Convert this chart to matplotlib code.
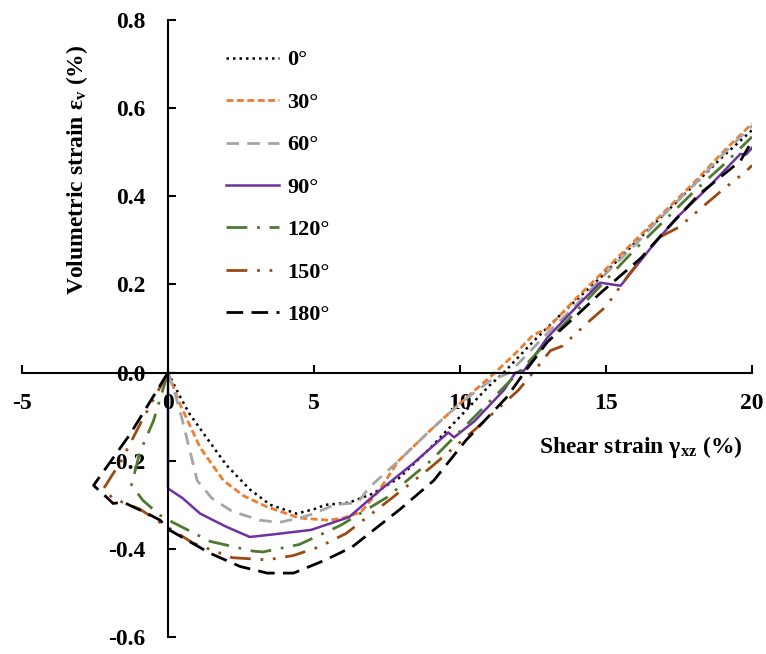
import numpy as np
import matplotlib.pyplot as plt

plt.rcParams["font.family"] = ["Liberation Serif", "DejaVu Serif"]
plt.rcParams["font.weight"] = "bold"
plt.rcParams["mathtext.fontset"] = "custom"
plt.rcParams["mathtext.rm"] = "Liberation Serif:bold"
plt.rcParams["mathtext.it"] = "Liberation Serif:bold"
plt.rcParams["axes.unicode_minus"] = False

labels = ["0°", "30°", "60°", "90°", "120°", "150°", "180°"]

x_0 = [0, 0.3, 0.7, 1.4, 2.0, 2.8, 3.5, 4.4, 5.0, 5.4, 6.2, 7.0, 7.9, 9.0,
       10.0, 11.0, 11.5, 12.5, 13.5, 14.8, 16.0, 17.0, 18.0, 19.0, 20.0]
y_0 = [0, -0.04, -0.09, -0.155, -0.21, -0.265, -0.30, -0.32, -0.31, -0.30,
       -0.295, -0.275, -0.24, -0.17, -0.10, -0.03, 0.0, 0.07, 0.135, 0.215,
       0.295, 0.36, 0.425, 0.49, 0.55]

x_30 = [0, 0.4, 1.1, 1.9, 2.6, 3.4, 4.5, 5.5, 6.0, 6.6, 7.2, 7.9, 9.0, 10.0,
        11.2, 12.0, 12.5, 13.0, 14.0, 15.0, 16.0, 17.0, 18.0, 19.0, 20.0]
y_30 = [0, -0.07, -0.17, -0.245, -0.28, -0.305, -0.33, -0.335, -0.33,
        -0.317, -0.27, -0.2, -0.13, -0.07, 0.0, 0.05, 0.085, 0.1, 0.17,
        0.235, 0.3, 0.365, 0.43, 0.50, 0.565]

x_60 = [0, 0.25, 0.5, 1.0, 1.5, 2.2, 3.15, 3.8, 4.5, 5.0, 5.7, 6.5, 6.9,
        7.9, 9.0, 10.0, 11.0, 11.7, 13.0, 14.0, 15.0, 16.0, 17.0, 18.0,
        19.0, 20.0]
y_60 = [0, -0.05, -0.11, -0.245, -0.285, -0.315, -0.335, -0.34, -0.33,
        -0.32, -0.30, -0.295, -0.26, -0.2, -0.13, -0.07, -0.02, 0.0, 0.09,
        0.155, 0.225, 0.29, 0.36, 0.425, 0.495, 0.56]

x_90 = [0, 0, 0.5, 1.1, 2.0, 2.8, 3.5, 4.9, 6.2, 7.26, 8.4, 9.6, 9.8, 10.5,
        11.5, 11.9, 12.2, 13.0, 14.0, 14.8, 15.5, 16.5, 17.4, 18.5, 19.6,
        19.8, 20.0]
y_90 = [0, -0.263, -0.285, -0.32, -0.35, -0.373, -0.368, -0.357, -0.328,
        -0.267, -0.206, -0.136, -0.147, -0.11, -0.04, 0.0, 0.005, 0.08,
        0.15, 0.204, 0.197, 0.28, 0.35, 0.42, 0.496, 0.495, 0.51]

x_120 = [0, -0.5, -0.96, -1.25, -0.86, -0.27, 0.17, 1.44, 2.9, 3.25, 4.5,
         5.9, 7.5, 9.0, 10.5, 12.0, 13.0, 14.0, 15.0, 16.0, 17.0, 18.0,
         19.0, 20.0]
y_120 = [0, -0.11, -0.18, -0.255, -0.29, -0.324, -0.34, -0.383, -0.405,
         -0.407, -0.39, -0.347, -0.283, -0.2, -0.1, 0.0, 0.07, 0.14, 0.21,
         0.28, 0.345, 0.41, 0.47, 0.535]

x_150 = [0, -0.9, -1.6, -2.2, -1.9, -0.96, -0.27, 0.86, 2.2, 3.4, 4.3, 5.2,
         6.1, 7.7, 9.0, 10.5, 12.0, 12.5, 13.1, 13.5, 14.45, 15.0, 15.8,
         16.8, 17.5, 18.2, 19.0, 19.8, 20.0]
y_150 = [0, -0.11, -0.2, -0.263, -0.285, -0.31, -0.34, -0.387, -0.42,
         -0.425, -0.415, -0.395, -0.365, -0.283, -0.215, -0.13, -0.04, 0.0,
         0.05, 0.06, 0.118, 0.15, 0.224, 0.306, 0.33, 0.37, 0.415, 0.457,
         0.47]

x_180 = [0, -1.3, -2.55, -2.15, -1.88, -1.54, -0.7, -0.27, 0.07, 1.44, 2.47,
         3.4, 4.3, 5.4, 6.3, 7.95, 9.1, 10.2, 11.6, 12.2, 13.0, 14.0, 14.8,
         16.2, 17.0, 18.2, 19.6, 20.0]
y_180 = [0, -0.14, -0.256, -0.28, -0.297, -0.294, -0.32, -0.335, -0.358,
         -0.41, -0.44, -0.455, -0.455, -0.425, -0.396, -0.31, -0.245, -0.154,
         -0.056, 0.0, 0.07, 0.13, 0.18, 0.26, 0.32, 0.405, 0.48, 0.525]

series = [
    (x_0, y_0, "black", (0, (1, 1.6)), 1.8),
    (x_30, y_30, "#ED7D31", (0, (2.5, 1.25)), 2.0),
    (x_60, y_60, "#A5A5A5", (0, (4.5, 3)), 2.0),
    (x_90, y_90, "#7030A0", "-", 1.8),
    (x_120, y_120, "#4E7A2F", (0, (7.5, 3.5, 1, 3.5)), 2.0),
    (x_150, y_150, "#9C4A12", (0, (7.5, 3.5, 1, 3.5, 1, 3.5)), 2.0),
    (x_180, y_180, "black", (0, (6, 3)), 2.0),
]

fig = plt.figure(figsize=(7.66, 6.54), dpi=100)
ax = fig.add_axes([22 / 766, 1 - 637 / 654, 730 / 766, 617 / 654])

for (xs, ys, c, ls, lw), lab in zip(series, labels):
    ax.plot(xs, ys, color=c, linestyle=ls, linewidth=lw, label=lab)

ax.set_xlim(-5, 20)
ax.set_ylim(-0.6, 0.8)
ax.spines["left"].set_position(("data", 0))
ax.spines["bottom"].set_position(("data", 0))
ax.spines["right"].set_visible(False)
ax.spines["top"].set_visible(False)
for s in ("left", "bottom"):
    ax.spines[s].set_linewidth(1.5)

yt = np.arange(-0.6, 0.81, 0.2)
ax.set_xticks([-5, 0, 5, 10, 15, 20])
ax.set_yticks(yt)
ax.set_yticklabels([f"{v:.1f}" for v in yt])
ax.tick_params(axis="both", direction="in", length=6, width=1.5,
               labelsize=17)
ax.tick_params(axis="x", pad=15)
ax.tick_params(axis="y", pad=16)

ax.text(16.2, -0.17, "Shear strain γ$_\\mathregular{xz}$ (%)", fontsize=17,
        fontweight="bold", ha="center", va="center")
ax.text(-3.1, 0.46, "Volumetric strain ε$_\\mathregular{v}$ (%)", fontsize=17,
        fontweight="bold", ha="center", va="center", rotation=90)

ax.legend(loc="upper left", bbox_to_anchor=(0.252, 0.984), frameon=False,
          fontsize=16, handlelength=2.4, labelspacing=0.985,
          handletextpad=0.36)

fig.savefig("out.png", dpi=100)
